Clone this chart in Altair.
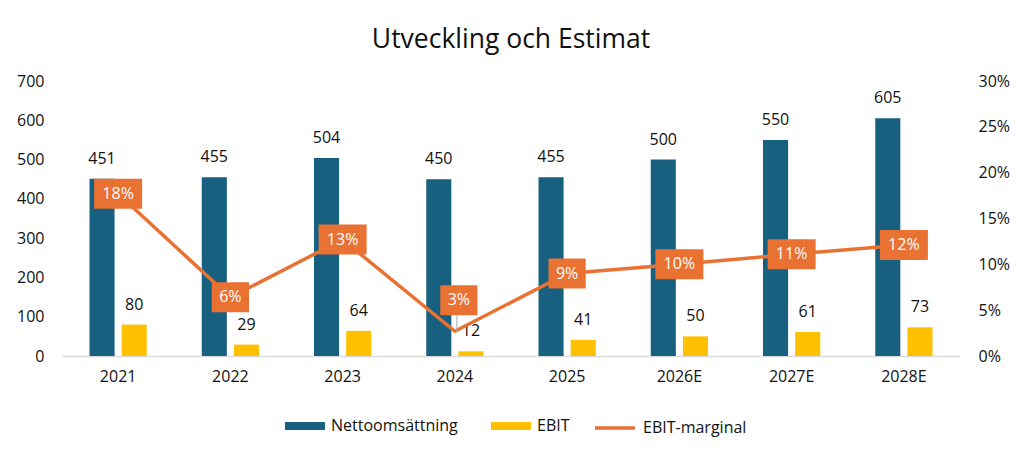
import altair as alt
import pandas as pd

years = ["2021", "2022", "2023", "2024", "2025", "2026E", "2027E", "2028E"]
netto = [451, 455, 504, 450, 455, 500, 550, 605]
ebit = [80, 29, 64, 12, 41, 50, 61, 73]
marginal = [0.177, 0.064, 0.127, 0.027, 0.090, 0.100, 0.111, 0.121]

bar_names = ["Nettoomsättning", "EBIT"]
line_name = "EBIT-marginal"
bar_colors = ["#17607F", "#FFC000"]
orange = "#E97132"
FONT = "Open Sans"
TXT = "#111111"

bars_df = pd.DataFrame({
    "year": years * 2,
    "series": [bar_names[0]] * len(years) + [bar_names[1]] * len(years),
    "value": netto + ebit,
})
line_df = pd.DataFrame({
    "year": years,
    "series": [line_name] * len(years),
    "marg": marginal,
})

xscale = alt.Scale(domain=years, paddingInner=0.49, paddingOuter=0.245)
xaxis = alt.Axis(title=None, labelAngle=0, labelFontSize=16, labelFont=FONT, labelColor=TXT,
                 ticks=False, domainColor="#D9D9D9", domainWidth=1.5, labelPadding=12)
X = alt.X("year:N", scale=xscale, axis=xaxis, sort=years)

color = alt.Color(
    "series:N",
    scale=alt.Scale(domain=bar_names, range=bar_colors),
    legend=alt.Legend(
        title=None, orient="none", direction="horizontal", legendX=223, legendY=325,
        labelFontSize=16, labelFont=FONT, labelColor=TXT,
        symbolSize=1600, symbolType="M-1,-0.2L1,-0.2L1,0.2L-1,0.2Z", symbolStrokeWidth=0,
        columnPadding=33, labelOffset=6,
    ),
)
stroke = alt.Stroke(
    "series:N",
    scale=alt.Scale(domain=[line_name], range=[orange]),
    legend=alt.Legend(
        title=None, orient="none", direction="horizontal", legendX=531, legendY=325,
        labelFontSize=16, labelFont=FONT, labelColor=TXT,
        symbolSize=1600, symbolType="stroke", symbolStrokeWidth=3.5, labelOffset=6,
    ),
)

yaxis_left = alt.Axis(title=None, values=list(range(0, 701, 100)), grid=False, domain=False,
                      ticks=False, labelFontSize=16, labelFont=FONT, labelColor=TXT, labelPadding=18)
YL = alt.Y("value:Q", scale=alt.Scale(domain=[0, 700]), axis=yaxis_left)
xoff = alt.XOffset("series:N", scale=alt.Scale(domain=bar_names, paddingInner=0.22, paddingOuter=0))

bars = alt.Chart(bars_df).mark_bar().encode(x=X, xOffset=xoff, y=YL, color=color)
bar_labels = alt.Chart(bars_df).mark_text(font=FONT, fontSize=16, color=TXT, baseline="middle", dy=-20).encode(
    x=X, xOffset=xoff, y=YL, text=alt.Text("value:Q"),
)
bar_layer = alt.layer(bars, bar_labels)

yaxis_right = alt.Axis(title=None, orient="right", format=".0%", values=[0, 0.05, 0.1, 0.15, 0.2, 0.25, 0.3],
                       grid=False, domain=False, ticks=False, labelFontSize=16, labelFont=FONT,
                       labelColor=TXT, labelPadding=18)
YR = alt.Y("marg:Q", scale=alt.Scale(domain=[0, 0.3]), axis=yaxis_right)

line = alt.Chart(line_df).mark_line(strokeWidth=3.5).encode(x=X, y=YR, stroke=stroke)
leader = alt.Chart(line_df).transform_filter(alt.datum.year == "2024").mark_rule(
    color="#A6A6A6", strokeWidth=1, y2Offset=-16, xOffset=2).encode(
    x=X, y=YR, y2=alt.Y2("marg"),
)

wide = "M-0.8,-0.5L0.8,-0.5L0.8,0.5L-0.8,0.5Z"
narrow = "M-0.62,-0.5L0.62,-0.5L0.62,0.5L-0.62,0.5Z"


def boxes(filt, shape, yoff, xoffv):
    base = alt.Chart(line_df).transform_filter(filt)
    b = base.mark_point(shape=shape, size=3600, filled=True, opacity=1, color=orange, strokeWidth=0,
                        xOffset=xoffv, yOffset=yoff).encode(x=X, y=YR)
    t = base.mark_text(font=FONT, fontSize=16, color="white", baseline="middle", dx=xoffv, dy=yoff).encode(
        x=X, y=YR, text=alt.Text("marg:Q", format=".0%"))
    return [b, t]


layers = []
layers += boxes((alt.datum.marg >= 0.095), wide, 0, 0)
layers += boxes((alt.datum.marg < 0.095) & (alt.datum.year != "2024"), narrow, 0, 0)
layers += boxes((alt.datum.year == "2024"), narrow, -31, 4)

line_layer = alt.layer(line, leader, *layers)

chart = alt.layer(bar_layer, line_layer).resolve_scale(y="independent").properties(
    width=898, height=275,
    padding={"left": 8, "top": 18, "right": 5, "bottom": 5},
    title=alt.Title("Utveckling och Estimat", fontSize=26.5, font=FONT, fontWeight="normal",
                    color=TXT, offset=20, anchor="middle"),
).configure(font=FONT).configure_view(stroke=None)

chart.save("out.html", embed_options={"renderer": "svg", "actions": False})
